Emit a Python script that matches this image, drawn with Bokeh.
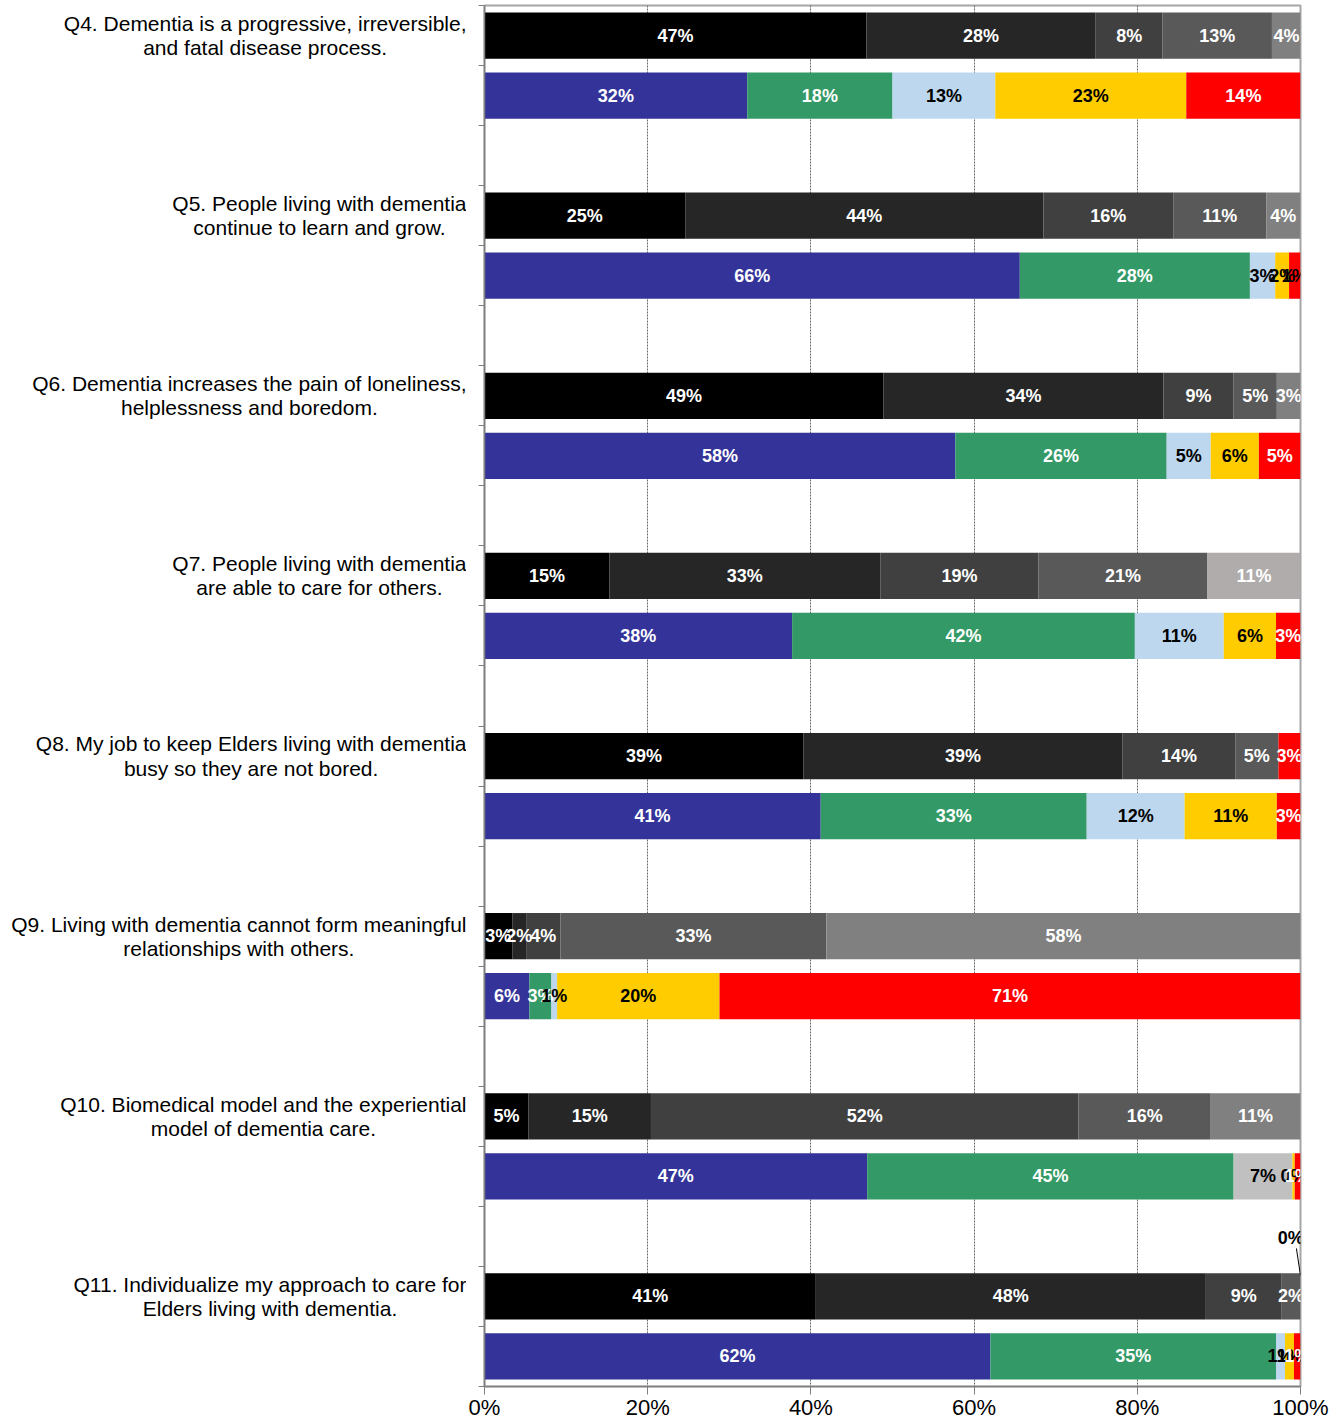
from bokeh.plotting import figure
from bokeh.models import ColumnDataSource, Range1d, FixedTicker, LabelSet
from bokeh.layouts import row
from bokeh.embed import file_html
from bokeh.resources import INLINE
from bokeh.core.properties import value, field

FONT = "Liberation Sans"

questions = [
    "Q4. Dementia is a progressive, irreversible,\nand fatal disease process.",
    "Q5. People living with dementia\ncontinue to learn and grow.",
    "Q6. Dementia increases the pain of loneliness,\nhelplessness and boredom.",
    "Q7. People living with dementia\nare able to care for others.",
    "Q8. My job to keep Elders living with dementia\nbusy so they are not bored.",
    "Q9. Living with dementia cannot form meaningful\nrelationships with others.",
    "Q10. Biomedical model and the experiential\nmodel of dementia care.",
    "Q11. Individualize my approach to care for\nElders living with dementia.",
]

# pre-training responses (greyscale bars), one list per segment, one value per question
pre_1 = [46.8, 24.6, 48.9, 15.3, 39.1, 3.4, 5.4, 40.6]
pre_2 = [28.1, 43.9, 34.3, 33.2, 39.1, 1.7, 15.0, 47.8]
pre_3 = [8.2, 15.9, 8.6, 19.4, 13.8, 4.2, 52.4, 9.3]
pre_4 = [13.4, 11.4, 5.3, 20.7, 5.3, 32.6, 16.2, 2.3]
pre_5 = [3.6, 4.2, 2.9, 11.4, 2.7, 58.1, 11.0, 0.0]

# post-training responses (coloured bars)
post_1 = [32.2, 65.6, 57.7, 37.7, 41.2, 5.5, 46.9, 62.0]
post_2 = [17.8, 28.2, 25.9, 42.0, 32.6, 2.7, 44.9, 35.0]
post_3 = [12.6, 3.1, 5.4, 10.9, 12.0, 0.7, 7.2, 1.1]
post_4 = [23.4, 1.7, 5.9, 6.4, 11.3, 19.9, 0.3, 1.1]
post_5 = [14.0, 1.4, 5.1, 3.0, 2.9, 71.2, 0.7, 0.8]

x_ticks = [0, 20, 40, 60, 80, 100]
x_tick_labels = ["0%", "20%", "40%", "60%", "80%", "100%"]

pre_colors = ["#000000", "#262626", "#404040", "#595959", "#808080"]
post_colors = ["#333399", "#339966", "#bdd7ee", "#ffcc00", "#ff0000"]
fill_override = {("pre", 3, 4): "#b0acab", ("pre", 4, 4): "#ff0000", ("post", 6, 2): "#c0c0c0"}
label_override = {("post", 1, 4): "#000000"}
dark_label_fills = {"#bdd7ee", "#ffcc00", "#c0c0c0"}

pre_segs = [pre_1, pre_2, pre_3, pre_4, pre_5]
post_segs = [post_1, post_2, post_3, post_4, post_5]

n_slots = 3 * len(questions) - 1
yr = Range1d(start=n_slots - 0.5, end=-0.5)

bars = dict(y=[], left=[], right=[], color=[])
labs = dict(x=[], y=[], txt=[], tc=[])
zero_ends = []
for i in range(len(questions)):
    for kind, segs, cols, slot in (("pre", pre_segs, pre_colors, 3 * i),
                                   ("post", post_segs, post_colors, 3 * i + 1)):
        left = 0.0
        for k in range(5):
            v = segs[k][i]
            c = fill_override.get((kind, i, k), cols[k])
            right = left + v
            if v > 0:
                bars["y"].append(slot)
                bars["left"].append(left)
                bars["right"].append(right)
                bars["color"].append(c)
                labs["x"].append((left + right) / 2)
                labs["y"].append(slot)
                labs["txt"].append(f"{round(v)}%")
                tc = "#000000" if c in dark_label_fills else "#ffffff"
                labs["tc"].append(label_override.get((kind, i, k), tc))
            else:
                zero_ends.append((right, slot))
            left = right

H = 1426
TOP = 5
BOT = 40

p = figure(width=864, height=H, x_range=Range1d(0, 100), y_range=yr,
           min_border_left=18, min_border_right=30, min_border_top=TOP, min_border_bottom=BOT,
           toolbar_location=None, output_backend="svg")
p.outline_line_color = "#a6a6a6"
p.outline_line_width = 2

p.hbar(y="y", left="left", right="right", height=0.77, fill_color="color",
       line_color=None, source=ColumnDataSource(bars))

p.add_layout(LabelSet(x="x", y="y", text="txt", source=ColumnDataSource(labs),
                      text_align="center", text_baseline="middle",
                      text_font=value(FONT), text_font_style="bold", text_font_size="18px",
                      text_color=field("tc")))

# external label for zero-width segments
for xe, slot in zero_ends:
    p.segment(x0=[xe - 0.5], y0=[slot - 0.8], x1=[xe], y1=[slot - 0.35],
              line_color="#000000", line_width=1)
    p.text(x=[xe - 1.2], y=[slot - 0.97], text=["0%"], text_align="center",
           text_baseline="middle", text_font=value(FONT), text_font_style="bold",
           text_font_size="18px", text_color="#000000")

p.xaxis.ticker = FixedTicker(ticks=x_ticks)
p.xaxis.major_label_overrides = {t: l for t, l in zip(x_ticks, x_tick_labels)}
p.xaxis.major_label_text_font = FONT
p.xaxis.major_label_text_font_size = "22px"
p.xaxis.major_label_text_color = "#000000"
p.xaxis.major_tick_out = 8
p.xaxis.major_tick_in = 0
p.xaxis.minor_tick_line_color = None
p.xaxis.axis_line_color = "#7f7f7f"
p.xaxis.axis_line_width = 1.5
p.xaxis.major_tick_line_color = "#7f7f7f"
p.xaxis.major_label_standoff = 0
p.xaxis.axis_label_standoff = 0
p.xaxis.major_label_text_line_height = 1.0

p.yaxis.ticker = FixedTicker(ticks=[], minor_ticks=[s - 0.5 for s in range(n_slots + 1)])
p.yaxis.minor_tick_out = 6
p.yaxis.minor_tick_in = 0
p.yaxis.minor_tick_line_color = "#7f7f7f"
p.yaxis.minor_tick_line_width = 1
p.yaxis.major_tick_line_color = None
p.yaxis.axis_line_color = "#7f7f7f"
p.yaxis.axis_line_width = 1.5

p.xgrid.ticker = FixedTicker(ticks=x_ticks)
p.xgrid.grid_line_color = "#6a6a6a"
p.xgrid.grid_line_dash = "2 1"
p.xgrid.grid_line_width = 1
p.ygrid.grid_line_color = None

left_fig = figure(width=466, height=H, x_range=Range1d(0, 466), y_range=yr,
                  min_border_left=0, min_border_right=0, min_border_top=TOP, min_border_bottom=BOT,
                  toolbar_location=None, output_backend="svg",
                  x_axis_type=None, y_axis_type=None)
left_fig.outline_line_color = None
left_fig.grid.visible = False
left_fig.text(x=[466] * len(questions), y=[3 * i for i in range(len(questions))], text=questions,
              anchor="center_right", text_align="center", text_baseline="middle",
              text_font=value(FONT), text_font_size="21px", text_color="#000000",
              text_line_height=1.05)

layout = row(left_fig, p)
open("out.html", "w").write(file_html(layout, INLINE))
